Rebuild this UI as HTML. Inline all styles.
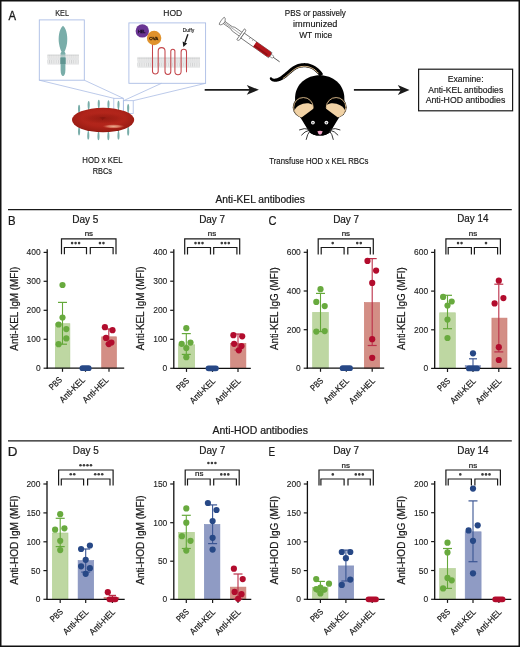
<!DOCTYPE html><html><head><meta charset="utf-8"><title>Figure</title><style>html,body{margin:0;padding:0;background:#fff;width:520px;height:647px;overflow:hidden}svg{display:block;font-family:"Liberation Sans", sans-serif;will-change:transform}</style></head><body>
<svg width="520" height="647" viewBox="0 0 520 647" font-family='"Liberation Sans", sans-serif'>
<rect x="0" y="0" width="520" height="647" fill="#fff"/>
<defs><pattern id="lip" x="0" y="0" width="2.2" height="4" patternUnits="userSpaceOnUse"><rect width="2.2" height="4" fill="#eeeeee"/><rect x="0.7" width="0.9" height="4" fill="#d2d3d4"/></pattern><pattern id="heads" x="0" y="0" width="2.2" height="3" patternUnits="userSpaceOnUse"><rect width="2.2" height="3" fill="#ebebeb"/><circle cx="1.1" cy="1.5" r="0.95" fill="#d3d4d5"/></pattern><radialGradient id="rbc" cx="0.5" cy="0.42" r="0.62"><stop offset="0" stop-color="#b8281d"/><stop offset="0.55" stop-color="#b0241a"/><stop offset="0.85" stop-color="#9c1d14"/><stop offset="1" stop-color="#80140d"/></radialGradient><radialGradient id="rbcdim" cx="0.5" cy="0.55" r="0.5"><stop offset="0" stop-color="#8c1810" stop-opacity="0.85"/><stop offset="0.6" stop-color="#951a11" stop-opacity="0.45"/><stop offset="1" stop-color="#a82015" stop-opacity="0"/></radialGradient><radialGradient id="rbchl" cx="0.5" cy="0.5" r="0.5"><stop offset="0" stop-color="#eaab8d"/><stop offset="0.55" stop-color="#d4705a"/><stop offset="1" stop-color="#c2392a" stop-opacity="0"/></radialGradient></defs>
<text x="8.55" y="19.7" font-size="13.4" fill="#1a1a1a" textLength="7.52" lengthAdjust="spacingAndGlyphs" stroke="#1a1a1a" stroke-width="0.35">A</text>
<text x="55.17" y="15.9" font-size="9.0" fill="#1a1a1a" textLength="13.81" lengthAdjust="spacingAndGlyphs" stroke="#1a1a1a" stroke-width="0.15">KEL</text>
<rect x="39.3" y="19.9" width="45.0" height="60.3" fill="none" stroke="#abbde5" stroke-width="0.9"/>
<rect x="47.5" y="54.3" width="31.40" height="10.30" fill="#e4e5e6"/>
<rect x="47.5" y="54.81" width="31.40" height="3.09" fill="url(#heads)"/>
<rect x="47.5" y="59.96" width="31.40" height="3.40" fill="url(#lip)"/>
<path d="M63,25.8 C67.2,29.5 67.8,38 67.0,43.5 C66.3,48 65.2,50.3 64.5,51.8 L65.5,53.2 L65.4,54.5 L65.4,70 C65.4,74 64.2,76 63,76 C61.8,76 60.6,74 60.6,70 L60.6,54.5 L60.5,53.2 L61.5,51.8 C60.8,50.3 59.7,48 59.0,43.5 C58.2,38 58.8,29.5 63,25.8 Z" fill="#79ada9"/>
<rect x="60.4" y="57.6" width="5.2" height="6.4" fill="#5f9591"/>
<rect x="59.8" y="54.6" width="6.4" height="2.6" fill="url(#heads)" opacity="0.55"/>
<text x="163.37" y="15.9" font-size="9.0" fill="#1a1a1a" textLength="18.88" lengthAdjust="spacingAndGlyphs" stroke="#1a1a1a" stroke-width="0.15">HOD</text>
<rect x="128.9" y="22.9" width="76.7" height="60.4" fill="none" stroke="#abbde5" stroke-width="0.9"/>
<rect x="137.5" y="56.9" width="62.50" height="10.80" fill="#e4e5e6"/>
<rect x="137.5" y="57.44" width="62.50" height="3.24" fill="url(#heads)"/>
<rect x="137.5" y="62.84" width="62.50" height="3.56" fill="url(#lip)"/>
<path d="M152.5,44 L152.5,71.6 A2.9,2.9 0 0 0 158.2,71.6 L158.2,51 A3.4,3.4 0 0 1 165,51 L165,71.6 A2.9,2.9 0 0 0 170.8,71.6 L170.8,51.2 A2.05,2.05 0 0 1 174.9,51.2 L174.9,71.6 A3.1,3.1 0 0 0 181.1,71.6 L181.1,52 A2.7,2.7 0 0 1 186.5,52 L186.5,72.3" fill="none" stroke="#c4464b" stroke-width="1.05"/>
<circle cx="142.3" cy="30.9" r="6.7" fill="#6a3593"/>
<circle cx="154.1" cy="38.0" r="7.2" fill="#e0922c"/>
<text x="137.99" y="32.7" font-size="4.3" fill="#1a0d2a" textLength="7.42" lengthAdjust="spacingAndGlyphs" stroke="#1a0d2a" stroke-width="0.3">HEL</text>
<text x="149.30" y="39.6" font-size="4.3" fill="#2a1805" textLength="9.01" lengthAdjust="spacingAndGlyphs" stroke="#2a1805" stroke-width="0.3">OVA</text>
<text x="182.65" y="31.9" font-size="4.8" fill="#1a1a1a" textLength="11.71" lengthAdjust="spacingAndGlyphs" stroke="#1a1a1a" stroke-width="0.12">Duffy</text>
<line x1="187.9" y1="34.2" x2="185.0" y2="42.5" stroke="#1a1a1a" stroke-width="1.35"/>
<path d="M183.3,46.9 L182.6,41.6 L187.2,43.4 Z" fill="#1a1a1a"/>
<line x1="39.3" y1="80.2" x2="113.8" y2="98.3" stroke="#abbde5" stroke-width="0.8"/>
<line x1="84.3" y1="80.2" x2="123.3" y2="98.3" stroke="#abbde5" stroke-width="0.8"/>
<line x1="161.5" y1="83.3" x2="123.5" y2="100.7" stroke="#abbde5" stroke-width="0.8"/>
<line x1="205.6" y1="83.3" x2="133.2" y2="100.7" stroke="#abbde5" stroke-width="0.8"/>
<rect x="113.8" y="98.3" width="9.5" height="14" fill="none" stroke="#abbde5" stroke-width="0.8"/>
<rect x="123.5" y="100.7" width="9.7" height="12.8" fill="none" stroke="#abbde5" stroke-width="0.8"/>
<path d="M79.1,104.7 C80.44999999999999,104.7 80.39999999999999,110.48 79.6,112.89 L79.6,115.2 L78.6,115.2 L78.6,112.89 C77.8,110.48 77.75,104.7 79.1,104.7 Z" fill="#79ada9"/>
<path d="M88.7,100.9 C90.05,100.9 90.0,106.68 89.2,109.09 L89.2,111.4 L88.2,111.4 L88.2,109.09 C87.4,106.68 87.35000000000001,100.9 88.7,100.9 Z" fill="#79ada9"/>
<path d="M98.8,99.8 C100.14999999999999,99.8 100.1,105.58 99.3,107.99 L99.3,110.3 L98.3,110.3 L98.3,107.99 C97.5,105.58 97.45,99.8 98.8,99.8 Z" fill="#79ada9"/>
<path d="M108.5,100.3 C109.85,100.3 109.8,106.08 109.0,108.49 L109.0,110.8 L108.0,110.8 L108.0,108.49 C107.2,106.08 107.15,100.3 108.5,100.3 Z" fill="#79ada9"/>
<path d="M118.5,100.8 C119.85,100.8 119.8,106.58 119.0,108.99 L119.0,111.3 L118.0,111.3 L118.0,108.99 C117.2,106.58 117.15,100.8 118.5,100.8 Z" fill="#79ada9"/>
<path d="M128.2,104.0 C129.54999999999998,104.0 129.5,109.78 128.7,112.19 L128.7,114.5 L127.69999999999999,114.5 L127.69999999999999,112.19 C126.89999999999999,109.78 126.85,104.0 128.2,104.0 Z" fill="#79ada9"/>
<path d="M79.1,135.5 C80.44999999999999,135.5 80.39999999999999,129.72 79.6,127.31 L79.6,125.0 L78.6,125.0 L78.6,127.31 C77.8,129.72 77.75,135.5 79.1,135.5 Z" fill="#79ada9"/>
<path d="M88.3,139.6 C89.64999999999999,139.6 89.6,133.82 88.8,131.41 L88.8,129.1 L87.8,129.1 L87.8,131.41 C87.0,133.82 86.95,139.6 88.3,139.6 Z" fill="#79ada9"/>
<path d="M98.5,140.2 C99.85,140.2 99.8,134.42 99.0,132.01 L99.0,129.7 L98.0,129.7 L98.0,132.01 C97.2,134.42 97.15,140.2 98.5,140.2 Z" fill="#79ada9"/>
<path d="M108.4,140.2 C109.75,140.2 109.7,134.42 108.9,132.01 L108.9,129.7 L107.9,129.7 L107.9,132.01 C107.10000000000001,134.42 107.05000000000001,140.2 108.4,140.2 Z" fill="#79ada9"/>
<path d="M118.5,139.6 C119.85,139.6 119.8,133.82 119.0,131.41 L119.0,129.1 L118.0,129.1 L118.0,131.41 C117.2,133.82 117.15,139.6 118.5,139.6 Z" fill="#79ada9"/>
<path d="M128.2,135.8 C129.54999999999998,135.8 129.5,130.03 128.7,127.61 L128.7,125.30000000000001 L127.69999999999999,125.30000000000001 L127.69999999999999,127.61 C126.89999999999999,130.03 126.85,135.8 128.2,135.8 Z" fill="#79ada9"/>
<ellipse cx="103.1" cy="120.0" rx="31.1" ry="12.2" fill="url(#rbc)"/>
<ellipse cx="103.5" cy="117.8" rx="23" ry="6.0" fill="url(#rbcdim)"/>
<path d="M99.5,117.6 Q101.8,118.4 102.6,120.2 Q103.6,118.2 106,117.6 Q103,116.6 99.5,117.6 Z" fill="#861610" opacity="0.8"/>
<ellipse cx="113.5" cy="126.4" rx="11.5" ry="2.3" fill="url(#rbchl)"/>
<text x="82.33" y="163.0" font-size="9.3" fill="#1a1a1a" textLength="40.18" lengthAdjust="spacingAndGlyphs" stroke="#1a1a1a" stroke-width="0.18">HOD x KEL</text>
<text x="92.66" y="174.0" font-size="9.3" fill="#1a1a1a" textLength="19.26" lengthAdjust="spacingAndGlyphs" stroke="#1a1a1a" stroke-width="0.18">RBCs</text>
<line x1="204.7" y1="89.8" x2="250.5" y2="89.8" stroke="#1a1a1a" stroke-width="1.7" />
<path d="M258.9,89.8 L246.8,84.9 L249.8,89.8 L246.8,94.7 Z" fill="#1a1a1a"/>
<line x1="353.9" y1="89.9" x2="403.0" y2="89.9" stroke="#1a1a1a" stroke-width="1.7" />
<path d="M409.5,89.9 L397.8,84.9 L400.8,89.9 L397.8,94.9 Z" fill="#1a1a1a"/>
<g transform="translate(221.7,20.8) rotate(35.3)">
<path d="M0.2,-4.4 C2.2,-4.4 2.6,-1.6 3.2,-1.3 L3.2,1.3 C2.6,1.6 2.2,4.4 0.2,4.4 C-0.8,4.4 -0.8,-4.4 0.2,-4.4 Z" fill="#fff" stroke="#5a5a5a" stroke-width="0.7"/>
<path d="M3.2,-1.3 L12,-1.3 L14.5,-2.3 L24,-2.3 L24,2.3 L14.5,2.3 L12,1.3 L3.2,1.3 Z" fill="#fff" stroke="#5a5a5a" stroke-width="0.7"/>
<line x1="4" y1="0" x2="24" y2="0" stroke="#5a5a5a" stroke-width="0.45"/>
<path d="M23.2,-6.6 C24.6,-6.8 25.6,-6.2 25.6,-5 L25.6,5 C25.6,6.2 24.6,6.8 23.2,6.6 Z" fill="#fff" stroke="#5a5a5a" stroke-width="0.7"/>
<rect x="25.6" y="-3.0" width="34" height="6.0" fill="#fff" stroke="#5a5a5a" stroke-width="0.75"/>
<path d="M40.5,-3 L57,-3 A3,3 0 0 1 57,3 L40.5,3 Z" fill="#b3161c"/>
<rect x="41" y="0.6" width="16" height="1.6" fill="#8f1116"/>
<line x1="33" y1="-3" x2="33" y2="-1" stroke="#5a5a5a" stroke-width="0.5"/>
<line x1="36.5" y1="-3" x2="36.5" y2="-1.4" stroke="#5a5a5a" stroke-width="0.5"/>
<rect x="60" y="-1.3" width="3" height="2.6" fill="#fff" stroke="#5a5a5a" stroke-width="0.5"/>
<line x1="63" y1="0" x2="71" y2="0" stroke="#5a5a5a" stroke-width="0.9"/>
</g>
<text x="284.80" y="15.6" font-size="9.3" fill="#1a1a1a" textLength="61.04" lengthAdjust="spacingAndGlyphs" stroke="#1a1a1a" stroke-width="0.18">PBS or passively</text>
<text x="293.05" y="26.7" font-size="9.3" fill="#1a1a1a" textLength="44.40" lengthAdjust="spacingAndGlyphs" stroke="#1a1a1a" stroke-width="0.18">immunized</text>
<text x="299.21" y="37.6" font-size="9.3" fill="#1a1a1a" textLength="32.93" lengthAdjust="spacingAndGlyphs" stroke="#1a1a1a" stroke-width="0.18">WT mice</text>
<path d="M269.86,78.96 L270.13,79.41 L270.49,79.87 L270.90,80.29 L271.36,80.65 L271.86,80.96 L272.39,81.22 L272.94,81.42 L273.52,81.58 L274.12,81.69 L274.74,81.76 L275.37,81.78 L276.01,81.76 L276.66,81.71 L277.32,81.61 L277.99,81.48 L278.67,81.32 L279.35,81.12 L280.03,80.88 L280.72,80.62 L281.40,80.32 L282.37,79.84 L283.35,79.30 L284.30,78.71 L285.23,78.09 L286.11,77.42 L286.98,76.72 L287.83,76.01 L288.66,75.29 L289.49,74.57 L290.30,73.86 L291.11,73.16 L291.91,72.48 L292.71,71.82 L293.51,71.19 L294.30,70.60 L295.09,70.05 L295.88,69.55 L296.67,69.09 L297.46,68.70 L298.23,68.37 L299.17,68.06 L300.16,67.80 L301.19,67.59 L302.25,67.44 L303.33,67.34 L304.43,67.32 L305.53,67.36 L306.65,67.49 L307.78,67.68 L308.90,67.97 L310.03,68.34 L311.15,68.80 L312.26,69.36 L313.37,70.02 L314.46,70.80 L315.54,71.69 L316.60,72.70 L317.64,73.84 L318.65,75.12 L319.67,76.59 L323.13,74.21 L322.03,72.62 L320.84,71.12 L319.61,69.76 L318.33,68.55 L317.01,67.46 L315.67,66.51 L314.29,65.68 L312.90,64.98 L311.49,64.40 L310.07,63.93 L308.66,63.58 L307.25,63.33 L305.85,63.18 L304.47,63.12 L303.11,63.15 L301.77,63.26 L300.47,63.45 L299.20,63.71 L297.98,64.04 L296.77,64.43 L295.70,64.89 L294.69,65.39 L293.71,65.95 L292.76,66.55 L291.84,67.19 L290.95,67.86 L290.07,68.55 L289.22,69.26 L288.38,69.97 L287.55,70.69 L286.73,71.41 L285.92,72.11 L285.11,72.80 L284.31,73.47 L283.52,74.12 L282.72,74.72 L281.95,75.33 L281.18,75.89 L280.41,76.40 L279.60,76.88 L279.08,77.18 L278.57,77.46 L278.05,77.71 L277.55,77.93 L277.05,78.13 L276.56,78.29 L276.09,78.43 L275.63,78.54 L275.18,78.62 L274.76,78.67 L274.36,78.69 L273.98,78.69 L273.63,78.65 L273.30,78.60 L273.00,78.52 L272.72,78.41 L272.46,78.28 L272.22,78.12 L271.99,77.93 L271.74,77.64 Z" fill="#000"/>
<circle cx="270.9" cy="78.4" r="1.15" fill="#000"/>
<polyline points="282.88,78.57 283.78,77.97 284.66,77.33 285.53,76.67 286.38,75.98 287.21,75.28 288.04,74.57 288.86,73.86 289.68,73.14 290.49,72.44 291.30,71.75 292.11,71.08 292.93,70.44 293.74,69.83 294.56,69.26 295.39,68.73 296.22,68.26 297.06,67.84 297.90,67.48 298.90,67.15 299.95,66.88 301.03,66.65 302.14,66.49 303.28,66.40 304.43,66.37 305.61,66.42 306.79,66.54 307.98,66.76 309.17,67.05 310.36,67.45 311.54,67.94 312.72,68.53 313.89,69.23 315.04,70.04 316.17,70.97 317.28,72.03 318.37,73.22" fill="none" stroke="#ecc995" stroke-width="1.0"/>
<path d="M319.7,75.2 C333,75.2 343.4,84 344.3,96.5 L344.5,104 L339.4,117.1 L330.2,131.9 C326,136.7 313.5,136.7 309.3,131.9 L300.1,117.1 L295.0,104 L295.1,96.5 C296,84 306.4,75.2 319.7,75.2 Z" fill="#000"/>
<circle cx="303.40" cy="107.3" r="10.6" fill="#1a140c"/>
<circle cx="303.40" cy="107.3" r="9.75" fill="#000" stroke="#e6c595" stroke-width="0.85"/>
<path d="M294.40,110.6 C296.90,104.5 307.40,101.0 312.80,105.2 A9.1,9.1 0 0 1 294.40,110.6 Z" fill="#f1d2a5"/>
<circle cx="336.10" cy="107.3" r="10.6" fill="#1a140c"/>
<circle cx="336.10" cy="107.3" r="9.75" fill="#000" stroke="#e6c595" stroke-width="0.85"/>
<path d="M345.10,110.6 C342.60,104.5 332.10,101.0 326.70,105.2 A9.1,9.1 0 0 0 345.10,110.6 Z" fill="#f1d2a5"/>
<path d="M301.6,117.6 L313.7,108.6 L319.75,106 L325.8,108.6 L337.9,117.6 L330.2,131.9 C326,136.8 313.5,136.8 309.3,131.9 Z" fill="#000"/>
<circle cx="312.9" cy="122.6" r="1.9" fill="#f4f4f4"/>
<circle cx="312.9" cy="122.8" r="0.8" fill="#555"/>
<circle cx="326.4" cy="122.6" r="1.9" fill="#f4f4f4"/>
<circle cx="326.4" cy="122.8" r="0.8" fill="#555"/>
<path d="M309.25,129.3 Q304.25,127.6 299.15,130.0" fill="none" stroke="#2b2b2b" stroke-width="0.95"/>
<path d="M309.45,130.2 Q304.75,131.2 301.35,135.3" fill="none" stroke="#2b2b2b" stroke-width="0.95"/>
<path d="M309.95,131.0 Q307.25,134 306.15,139.8" fill="none" stroke="#2b2b2b" stroke-width="0.95"/>
<path d="M330.25,129.3 Q335.25,127.6 340.35,130.0" fill="none" stroke="#2b2b2b" stroke-width="0.95"/>
<path d="M330.05,130.2 Q334.75,131.2 338.15,135.3" fill="none" stroke="#2b2b2b" stroke-width="0.95"/>
<path d="M329.55,131.0 Q332.25,134 333.35,139.8" fill="none" stroke="#2b2b2b" stroke-width="0.95"/>
<path d="M317.4,131.2 Q320,130.4 322.7,131.2 Q322.0,134.4 320.0,134.7 Q318.1,134.4 317.4,131.2 Z" fill="#f0a3c6"/>
<text x="269.29" y="163.7" font-size="9.3" fill="#1a1a1a" textLength="99.25" lengthAdjust="spacingAndGlyphs" stroke="#1a1a1a" stroke-width="0.18">Transfuse HOD x KEL RBCs</text>
<rect x="418.6" y="69.2" width="94.0" height="41.6" fill="none" stroke="#1a1a1a" stroke-width="1.2"/>
<text x="447.66" y="81.7" font-size="9.3" fill="#1a1a1a" textLength="35.89" lengthAdjust="spacingAndGlyphs" stroke="#1a1a1a" stroke-width="0.18">Examine:</text>
<text x="428.25" y="92.7" font-size="9.3" fill="#1a1a1a" textLength="74.91" lengthAdjust="spacingAndGlyphs" stroke="#1a1a1a" stroke-width="0.18">Anti-KEL antibodies</text>
<text x="425.65" y="103.3" font-size="9.3" fill="#1a1a1a" textLength="79.61" lengthAdjust="spacingAndGlyphs" stroke="#1a1a1a" stroke-width="0.18">Anti-HOD antibodies</text>
<text x="215.55" y="203.0" font-size="10.3" fill="#1a1a1a" textLength="89.27" lengthAdjust="spacingAndGlyphs" stroke="#1a1a1a" stroke-width="0.22">Anti-KEL antibodies</text>
<line x1="8.0" y1="209.6" x2="511.8" y2="209.6" stroke="#1a1a1a" stroke-width="1.2" />
<text x="212.45" y="434.3" font-size="10.3" fill="#1a1a1a" textLength="95.47" lengthAdjust="spacingAndGlyphs" stroke="#1a1a1a" stroke-width="0.22">Anti-HOD antibodies</text>
<line x1="8.0" y1="440.8" x2="511.8" y2="440.8" stroke="#1a1a1a" stroke-width="1.2" />
<text x="7.94" y="224.6" font-size="13.4" fill="#1a1a1a" textLength="7.61" lengthAdjust="spacingAndGlyphs" stroke="#1a1a1a" stroke-width="0.22">B</text>
<text x="268.40" y="224.6" font-size="13.4" fill="#1a1a1a" textLength="7.96" lengthAdjust="spacingAndGlyphs" stroke="#1a1a1a" stroke-width="0.22">C</text>
<text x="7.77" y="455.9" font-size="13.4" fill="#1a1a1a" textLength="9.71" lengthAdjust="spacingAndGlyphs" stroke="#1a1a1a" stroke-width="0.22">D</text>
<text x="268.56" y="455.9" font-size="13.4" fill="#1a1a1a" textLength="6.61" lengthAdjust="spacingAndGlyphs" stroke="#1a1a1a" stroke-width="0.22">E</text>
<rect x="55.30" y="323.70" width="14.60" height="44.50" fill="#bed7a2" stroke="#afcd8f" stroke-width="0.6"/>
<rect x="101.70" y="336.80" width="14.80" height="31.40" fill="#d38e85" stroke="#cc7f75" stroke-width="0.6"/>
<line x1="47.2" y1="249.3" x2="47.2" y2="368.8" stroke="#111" stroke-width="1.3" />
<line x1="46.6" y1="368.2" x2="124.2" y2="368.2" stroke="#111" stroke-width="1.3" />
<line x1="43.6" y1="252.4" x2="47.2" y2="252.4" stroke="#1a1a1a" stroke-width="1.2" />
<text x="26.63" y="255.4" font-size="8.45" fill="#1a1a1a" textLength="14.10" lengthAdjust="spacingAndGlyphs" stroke="#1a1a1a" stroke-width="0.1">400</text>
<line x1="43.6" y1="281.3" x2="47.2" y2="281.3" stroke="#1a1a1a" stroke-width="1.2" />
<text x="26.63" y="284.3" font-size="8.45" fill="#1a1a1a" textLength="14.10" lengthAdjust="spacingAndGlyphs" stroke="#1a1a1a" stroke-width="0.1">300</text>
<line x1="43.6" y1="310.3" x2="47.2" y2="310.3" stroke="#1a1a1a" stroke-width="1.2" />
<text x="26.63" y="313.3" font-size="8.45" fill="#1a1a1a" textLength="14.10" lengthAdjust="spacingAndGlyphs" stroke="#1a1a1a" stroke-width="0.1">200</text>
<line x1="43.6" y1="339.3" x2="47.2" y2="339.3" stroke="#1a1a1a" stroke-width="1.2" />
<text x="26.63" y="342.3" font-size="8.45" fill="#1a1a1a" textLength="14.10" lengthAdjust="spacingAndGlyphs" stroke="#1a1a1a" stroke-width="0.1">100</text>
<line x1="43.6" y1="368.2" x2="47.2" y2="368.2" stroke="#1a1a1a" stroke-width="1.2" />
<text x="36.01" y="371.2" font-size="8.45" fill="#1a1a1a" textLength="4.70" lengthAdjust="spacingAndGlyphs" stroke="#1a1a1a" stroke-width="0.1">0</text>
<line x1="62.5" y1="368.2" x2="62.5" y2="371.8" stroke="#1a1a1a" stroke-width="1.2" />
<line x1="85.5" y1="368.2" x2="85.5" y2="371.8" stroke="#1a1a1a" stroke-width="1.2" />
<line x1="109.0" y1="368.2" x2="109.0" y2="371.8" stroke="#1a1a1a" stroke-width="1.2" />
<line x1="62.5" y1="302.4" x2="62.5" y2="344.2" stroke="#64a83a" stroke-width="1.1" />
<line x1="58.0" y1="302.4" x2="67.0" y2="302.4" stroke="#64a83a" stroke-width="1.2" />
<line x1="58.0" y1="344.2" x2="67.0" y2="344.2" stroke="#64a83a" stroke-width="1.2" />
<line x1="108.8" y1="329.0" x2="108.8" y2="344.0" stroke="#bb2f48" stroke-width="1.1" />
<line x1="105.3" y1="329.0" x2="112.3" y2="329.0" stroke="#bb2f48" stroke-width="1.2" />
<line x1="105.3" y1="344.0" x2="112.3" y2="344.0" stroke="#bb2f48" stroke-width="1.2" />
<circle cx="62.5" cy="285.0" r="3.1" fill="#68aa3e"/>
<circle cx="62.5" cy="317.5" r="3.1" fill="#68aa3e"/>
<circle cx="58.6" cy="324.5" r="3.1" fill="#68aa3e"/>
<circle cx="66.3" cy="329.1" r="3.1" fill="#68aa3e"/>
<circle cx="66.3" cy="338.4" r="3.1" fill="#68aa3e"/>
<circle cx="58.6" cy="344.2" r="3.1" fill="#68aa3e"/>
<rect x="79.5" y="365.30" width="12.10" height="5.8" rx="2.9" fill="#274886"/>
<circle cx="104.9" cy="327.2" r="3.1" fill="#b20c2d"/>
<circle cx="112.5" cy="330.2" r="3.1" fill="#b20c2d"/>
<circle cx="106.0" cy="337.9" r="3.1" fill="#b20c2d"/>
<circle cx="111.4" cy="342.5" r="3.1" fill="#b20c2d"/>
<circle cx="108.8" cy="344.1" r="3.1" fill="#b20c2d"/>
<text transform="translate(62.60,380.50) rotate(-45)" font-size="8.8" text-anchor="end" fill="#1a1a1a" stroke="#1a1a1a" stroke-width="0.22" textLength="14.2" lengthAdjust="spacingAndGlyphs">PBS</text>
<text transform="translate(85.60,380.50) rotate(-45)" font-size="8.8" text-anchor="end" fill="#1a1a1a" stroke="#1a1a1a" stroke-width="0.22" textLength="32.0" lengthAdjust="spacingAndGlyphs">Anti-KEL</text>
<text transform="translate(109.10,380.50) rotate(-45)" font-size="8.8" text-anchor="end" fill="#1a1a1a" stroke="#1a1a1a" stroke-width="0.22" textLength="32.5" lengthAdjust="spacingAndGlyphs">Anti-HEL</text>
<polyline points="61.5,254.3 61.5,238.85 116.0,238.85 116.0,254.3" fill="none" stroke="#1a1a1a" stroke-width="1.2"/>
<polyline points="64.4,254.3 64.4,247.5 86.5,247.5 86.5,254.3" fill="none" stroke="#1a1a1a" stroke-width="1.2"/>
<polyline points="90.3,254.3 90.3,247.5 113.1,247.5 113.1,254.3" fill="none" stroke="#1a1a1a" stroke-width="1.2"/>
<text x="84.68" y="236.1" font-size="7.6" fill="#1a1a1a" textLength="8.41" lengthAdjust="spacingAndGlyphs" stroke="#1a1a1a" stroke-width="0.22">ns</text>
<circle cx="72.10" cy="243.1" r="1.3" fill="#3c3c3c"/>
<circle cx="75.60" cy="243.1" r="1.3" fill="#3c3c3c"/>
<circle cx="79.10" cy="243.1" r="1.3" fill="#3c3c3c"/>
<circle cx="99.95" cy="243.1" r="1.3" fill="#3c3c3c"/>
<circle cx="103.45" cy="243.1" r="1.3" fill="#3c3c3c"/>
<text x="72.15" y="222.5" font-size="10.4" fill="#1a1a1a" textLength="26.23" lengthAdjust="spacingAndGlyphs" stroke="#1a1a1a" stroke-width="0.22">Day 5</text>
<text transform="translate(17.6,350.65) rotate(-90)" font-size="10.4" fill="#1a1a1a" stroke="#1a1a1a" stroke-width="0.22" textLength="84.04" lengthAdjust="spacingAndGlyphs">Anti-KEL IgM (MFI)</text>
<rect x="178.50" y="344.80" width="16.20" height="23.50" fill="#bed7a2" stroke="#afcd8f" stroke-width="0.6"/>
<rect x="230.50" y="343.30" width="15.40" height="25.00" fill="#d38e85" stroke="#cc7f75" stroke-width="0.6"/>
<line x1="173.8" y1="249.3" x2="173.8" y2="368.90000000000003" stroke="#111" stroke-width="1.3" />
<line x1="173.20000000000002" y1="368.3" x2="250.8" y2="368.3" stroke="#111" stroke-width="1.3" />
<line x1="170.20000000000002" y1="252.2" x2="173.8" y2="252.2" stroke="#1a1a1a" stroke-width="1.2" />
<text x="153.23" y="255.2" font-size="8.45" fill="#1a1a1a" textLength="14.10" lengthAdjust="spacingAndGlyphs" stroke="#1a1a1a" stroke-width="0.1">400</text>
<line x1="170.20000000000002" y1="281.2" x2="173.8" y2="281.2" stroke="#1a1a1a" stroke-width="1.2" />
<text x="153.23" y="284.2" font-size="8.45" fill="#1a1a1a" textLength="14.10" lengthAdjust="spacingAndGlyphs" stroke="#1a1a1a" stroke-width="0.1">300</text>
<line x1="170.20000000000002" y1="310.3" x2="173.8" y2="310.3" stroke="#1a1a1a" stroke-width="1.2" />
<text x="153.23" y="313.3" font-size="8.45" fill="#1a1a1a" textLength="14.10" lengthAdjust="spacingAndGlyphs" stroke="#1a1a1a" stroke-width="0.1">200</text>
<line x1="170.20000000000002" y1="339.3" x2="173.8" y2="339.3" stroke="#1a1a1a" stroke-width="1.2" />
<text x="153.23" y="342.3" font-size="8.45" fill="#1a1a1a" textLength="14.10" lengthAdjust="spacingAndGlyphs" stroke="#1a1a1a" stroke-width="0.1">100</text>
<line x1="170.20000000000002" y1="368.3" x2="173.8" y2="368.3" stroke="#1a1a1a" stroke-width="1.2" />
<text x="162.61" y="371.3" font-size="8.45" fill="#1a1a1a" textLength="4.70" lengthAdjust="spacingAndGlyphs" stroke="#1a1a1a" stroke-width="0.1">0</text>
<line x1="186.5" y1="368.3" x2="186.5" y2="371.90000000000003" stroke="#1a1a1a" stroke-width="1.2" />
<line x1="212.5" y1="368.3" x2="212.5" y2="371.90000000000003" stroke="#1a1a1a" stroke-width="1.2" />
<line x1="238.0" y1="368.3" x2="238.0" y2="371.90000000000003" stroke="#1a1a1a" stroke-width="1.2" />
<line x1="186.3" y1="333.6" x2="186.3" y2="354.4" stroke="#64a83a" stroke-width="1.1" />
<line x1="181.8" y1="333.6" x2="190.8" y2="333.6" stroke="#64a83a" stroke-width="1.2" />
<line x1="181.8" y1="354.4" x2="190.8" y2="354.4" stroke="#64a83a" stroke-width="1.2" />
<line x1="238.0" y1="334.0" x2="238.0" y2="350.0" stroke="#bb2f48" stroke-width="1.1" />
<line x1="234.5" y1="334.0" x2="241.5" y2="334.0" stroke="#bb2f48" stroke-width="1.2" />
<line x1="234.5" y1="350.0" x2="241.5" y2="350.0" stroke="#bb2f48" stroke-width="1.2" />
<circle cx="186.3" cy="328.2" r="3.1" fill="#68aa3e"/>
<circle cx="181.7" cy="343.8" r="3.1" fill="#68aa3e"/>
<circle cx="190.5" cy="342.6" r="3.1" fill="#68aa3e"/>
<circle cx="186.3" cy="348.0" r="3.1" fill="#68aa3e"/>
<circle cx="186.3" cy="357.2" r="3.1" fill="#68aa3e"/>
<rect x="205.6" y="365.40" width="13.20" height="5.8" rx="2.9" fill="#274886"/>
<circle cx="233.4" cy="335.2" r="3.1" fill="#b20c2d"/>
<circle cx="242.2" cy="336.3" r="3.1" fill="#b20c2d"/>
<circle cx="234.1" cy="343.8" r="3.1" fill="#b20c2d"/>
<circle cx="241.5" cy="346.1" r="3.1" fill="#b20c2d"/>
<circle cx="238.8" cy="350.3" r="3.1" fill="#b20c2d"/>
<text transform="translate(189.90,381.50) rotate(-45)" font-size="8.8" text-anchor="end" fill="#1a1a1a" stroke="#1a1a1a" stroke-width="0.22" textLength="14.2" lengthAdjust="spacingAndGlyphs">PBS</text>
<text transform="translate(215.90,381.50) rotate(-45)" font-size="8.8" text-anchor="end" fill="#1a1a1a" stroke="#1a1a1a" stroke-width="0.22" textLength="32.0" lengthAdjust="spacingAndGlyphs">Anti-KEL</text>
<text transform="translate(241.40,381.50) rotate(-45)" font-size="8.8" text-anchor="end" fill="#1a1a1a" stroke="#1a1a1a" stroke-width="0.22" textLength="32.5" lengthAdjust="spacingAndGlyphs">Anti-HEL</text>
<polyline points="184.7,254.5 184.7,238.85 239.7,238.85 239.7,254.5" fill="none" stroke="#1a1a1a" stroke-width="1.2"/>
<polyline points="187.5,254.5 187.5,247.5 210.5,247.5 210.5,254.5" fill="none" stroke="#1a1a1a" stroke-width="1.2"/>
<polyline points="213.7,254.5 213.7,247.5 236.9,247.5 236.9,254.5" fill="none" stroke="#1a1a1a" stroke-width="1.2"/>
<text x="207.78" y="236.1" font-size="7.6" fill="#1a1a1a" textLength="8.41" lengthAdjust="spacingAndGlyphs" stroke="#1a1a1a" stroke-width="0.22">ns</text>
<circle cx="195.50" cy="243.1" r="1.3" fill="#3c3c3c"/>
<circle cx="199.00" cy="243.1" r="1.3" fill="#3c3c3c"/>
<circle cx="202.50" cy="243.1" r="1.3" fill="#3c3c3c"/>
<circle cx="221.80" cy="243.1" r="1.3" fill="#3c3c3c"/>
<circle cx="225.30" cy="243.1" r="1.3" fill="#3c3c3c"/>
<circle cx="228.80" cy="243.1" r="1.3" fill="#3c3c3c"/>
<text x="199.15" y="222.5" font-size="10.4" fill="#1a1a1a" textLength="26.02" lengthAdjust="spacingAndGlyphs" stroke="#1a1a1a" stroke-width="0.22">Day 7</text>
<text transform="translate(144.2,350.25) rotate(-90)" font-size="10.4" fill="#1a1a1a" stroke="#1a1a1a" stroke-width="0.22" textLength="83.84" lengthAdjust="spacingAndGlyphs">Anti-KEL IgM (MFI)</text>
<rect x="312.70" y="312.40" width="15.60" height="55.80" fill="#bed7a2" stroke="#afcd8f" stroke-width="0.6"/>
<rect x="364.30" y="302.50" width="15.40" height="65.70" fill="#d38e85" stroke="#cc7f75" stroke-width="0.6"/>
<line x1="307.3" y1="249.3" x2="307.3" y2="368.8" stroke="#111" stroke-width="1.3" />
<line x1="306.7" y1="368.2" x2="384.2" y2="368.2" stroke="#111" stroke-width="1.3" />
<line x1="303.7" y1="252.3" x2="307.3" y2="252.3" stroke="#1a1a1a" stroke-width="1.2" />
<text x="286.73" y="255.3" font-size="8.45" fill="#1a1a1a" textLength="14.10" lengthAdjust="spacingAndGlyphs" stroke="#1a1a1a" stroke-width="0.1">600</text>
<line x1="303.7" y1="291.0" x2="307.3" y2="291.0" stroke="#1a1a1a" stroke-width="1.2" />
<text x="286.73" y="294.0" font-size="8.45" fill="#1a1a1a" textLength="14.10" lengthAdjust="spacingAndGlyphs" stroke="#1a1a1a" stroke-width="0.1">400</text>
<line x1="303.7" y1="329.7" x2="307.3" y2="329.7" stroke="#1a1a1a" stroke-width="1.2" />
<text x="286.73" y="332.7" font-size="8.45" fill="#1a1a1a" textLength="14.10" lengthAdjust="spacingAndGlyphs" stroke="#1a1a1a" stroke-width="0.1">200</text>
<line x1="303.7" y1="368.2" x2="307.3" y2="368.2" stroke="#1a1a1a" stroke-width="1.2" />
<text x="296.11" y="371.2" font-size="8.45" fill="#1a1a1a" textLength="4.70" lengthAdjust="spacingAndGlyphs" stroke="#1a1a1a" stroke-width="0.1">0</text>
<line x1="320.5" y1="368.2" x2="320.5" y2="371.8" stroke="#1a1a1a" stroke-width="1.2" />
<line x1="346.3" y1="368.2" x2="346.3" y2="371.8" stroke="#1a1a1a" stroke-width="1.2" />
<line x1="372.2" y1="368.2" x2="372.2" y2="371.8" stroke="#1a1a1a" stroke-width="1.2" />
<line x1="320.5" y1="293.4" x2="320.5" y2="331.6" stroke="#64a83a" stroke-width="1.1" />
<line x1="316.0" y1="293.4" x2="325.0" y2="293.4" stroke="#64a83a" stroke-width="1.2" />
<line x1="316.0" y1="331.6" x2="325.0" y2="331.6" stroke="#64a83a" stroke-width="1.2" />
<line x1="372.2" y1="258.6" x2="372.2" y2="345.5" stroke="#bb2f48" stroke-width="1.1" />
<line x1="367.7" y1="258.6" x2="376.7" y2="258.6" stroke="#bb2f48" stroke-width="1.2" />
<line x1="367.7" y1="345.5" x2="376.7" y2="345.5" stroke="#bb2f48" stroke-width="1.2" />
<circle cx="320.5" cy="289.2" r="3.1" fill="#68aa3e"/>
<circle cx="316.3" cy="301.9" r="3.1" fill="#68aa3e"/>
<circle cx="324.7" cy="306.1" r="3.1" fill="#68aa3e"/>
<circle cx="316.3" cy="331.6" r="3.1" fill="#68aa3e"/>
<circle cx="324.7" cy="331.1" r="3.1" fill="#68aa3e"/>
<rect x="339.7" y="365.30" width="13.20" height="5.8" rx="2.9" fill="#274886"/>
<circle cx="367.5" cy="260.9" r="3.1" fill="#b20c2d"/>
<circle cx="376.1" cy="270.6" r="3.1" fill="#b20c2d"/>
<circle cx="372.2" cy="282.9" r="3.1" fill="#b20c2d"/>
<circle cx="372.2" cy="339.2" r="3.1" fill="#b20c2d"/>
<circle cx="372.2" cy="357.8" r="3.1" fill="#b20c2d"/>
<text transform="translate(323.90,381.40) rotate(-45)" font-size="8.8" text-anchor="end" fill="#1a1a1a" stroke="#1a1a1a" stroke-width="0.22" textLength="14.2" lengthAdjust="spacingAndGlyphs">PBS</text>
<text transform="translate(349.70,381.40) rotate(-45)" font-size="8.8" text-anchor="end" fill="#1a1a1a" stroke="#1a1a1a" stroke-width="0.22" textLength="32.0" lengthAdjust="spacingAndGlyphs">Anti-KEL</text>
<text transform="translate(375.60,381.40) rotate(-45)" font-size="8.8" text-anchor="end" fill="#1a1a1a" stroke="#1a1a1a" stroke-width="0.22" textLength="32.5" lengthAdjust="spacingAndGlyphs">Anti-HEL</text>
<polyline points="318.2,254.5 318.2,238.85 373.3,238.85 373.3,254.5" fill="none" stroke="#1a1a1a" stroke-width="1.2"/>
<polyline points="321.2,254.5 321.2,247.5 344.1,247.5 344.1,254.5" fill="none" stroke="#1a1a1a" stroke-width="1.2"/>
<polyline points="347.8,254.5 347.8,247.5 370.3,247.5 370.3,254.5" fill="none" stroke="#1a1a1a" stroke-width="1.2"/>
<text x="341.68" y="236.1" font-size="7.6" fill="#1a1a1a" textLength="8.41" lengthAdjust="spacingAndGlyphs" stroke="#1a1a1a" stroke-width="0.22">ns</text>
<circle cx="332.70" cy="243.1" r="1.3" fill="#3c3c3c"/>
<circle cx="357.25" cy="243.1" r="1.3" fill="#3c3c3c"/>
<circle cx="360.75" cy="243.1" r="1.3" fill="#3c3c3c"/>
<text x="333.15" y="222.5" font-size="10.4" fill="#1a1a1a" textLength="26.02" lengthAdjust="spacingAndGlyphs" stroke="#1a1a1a" stroke-width="0.22">Day 7</text>
<text transform="translate(277.5,350.05) rotate(-90)" font-size="10.4" fill="#1a1a1a" stroke="#1a1a1a" stroke-width="0.22" textLength="82.73" lengthAdjust="spacingAndGlyphs">Anti-KEL IgG (MFI)</text>
<rect x="439.70" y="312.80" width="15.60" height="55.60" fill="#bed7a2" stroke="#afcd8f" stroke-width="0.6"/>
<rect x="465.20" y="365.60" width="15.20" height="2.80" fill="#8f9bc4" stroke="#8290bd" stroke-width="0.6"/>
<rect x="491.90" y="318.10" width="15.10" height="50.30" fill="#d38e85" stroke="#cc7f75" stroke-width="0.6"/>
<line x1="434.7" y1="249.3" x2="434.7" y2="369.0" stroke="#111" stroke-width="1.3" />
<line x1="434.09999999999997" y1="368.4" x2="511.3" y2="368.4" stroke="#111" stroke-width="1.3" />
<line x1="431.09999999999997" y1="252.4" x2="434.7" y2="252.4" stroke="#1a1a1a" stroke-width="1.2" />
<text x="414.13" y="255.4" font-size="8.45" fill="#1a1a1a" textLength="14.10" lengthAdjust="spacingAndGlyphs" stroke="#1a1a1a" stroke-width="0.1">600</text>
<line x1="431.09999999999997" y1="291.1" x2="434.7" y2="291.1" stroke="#1a1a1a" stroke-width="1.2" />
<text x="414.13" y="294.1" font-size="8.45" fill="#1a1a1a" textLength="14.10" lengthAdjust="spacingAndGlyphs" stroke="#1a1a1a" stroke-width="0.1">400</text>
<line x1="431.09999999999997" y1="329.8" x2="434.7" y2="329.8" stroke="#1a1a1a" stroke-width="1.2" />
<text x="414.13" y="332.8" font-size="8.45" fill="#1a1a1a" textLength="14.10" lengthAdjust="spacingAndGlyphs" stroke="#1a1a1a" stroke-width="0.1">200</text>
<line x1="431.09999999999997" y1="368.4" x2="434.7" y2="368.4" stroke="#1a1a1a" stroke-width="1.2" />
<text x="423.51" y="371.4" font-size="8.45" fill="#1a1a1a" textLength="4.70" lengthAdjust="spacingAndGlyphs" stroke="#1a1a1a" stroke-width="0.1">0</text>
<line x1="447.5" y1="368.4" x2="447.5" y2="372.0" stroke="#1a1a1a" stroke-width="1.2" />
<line x1="473.0" y1="368.4" x2="473.0" y2="372.0" stroke="#1a1a1a" stroke-width="1.2" />
<line x1="498.8" y1="368.4" x2="498.8" y2="372.0" stroke="#1a1a1a" stroke-width="1.2" />
<line x1="447.5" y1="295.3" x2="447.5" y2="328.7" stroke="#64a83a" stroke-width="1.1" />
<line x1="443.0" y1="295.3" x2="452.0" y2="295.3" stroke="#64a83a" stroke-width="1.2" />
<line x1="443.0" y1="328.7" x2="452.0" y2="328.7" stroke="#64a83a" stroke-width="1.2" />
<line x1="473.0" y1="358.8" x2="473.0" y2="368.0" stroke="#3a5593" stroke-width="1.1" />
<line x1="469.0" y1="358.8" x2="477.0" y2="358.8" stroke="#3a5593" stroke-width="1.2" />
<line x1="469.0" y1="368.0" x2="477.0" y2="368.0" stroke="#3a5593" stroke-width="1.2" />
<line x1="498.8" y1="284.2" x2="498.8" y2="351.9" stroke="#bb2f48" stroke-width="1.1" />
<line x1="494.3" y1="284.2" x2="503.3" y2="284.2" stroke="#bb2f48" stroke-width="1.2" />
<line x1="494.3" y1="351.9" x2="503.3" y2="351.9" stroke="#bb2f48" stroke-width="1.2" />
<circle cx="443.1" cy="296.9" r="3.1" fill="#68aa3e"/>
<circle cx="451.7" cy="301.5" r="3.1" fill="#68aa3e"/>
<circle cx="447.5" cy="305.5" r="3.1" fill="#68aa3e"/>
<circle cx="447.5" cy="319.6" r="3.1" fill="#68aa3e"/>
<circle cx="447.5" cy="338.0" r="3.1" fill="#68aa3e"/>
<circle cx="473.0" cy="353.3" r="3.1" fill="#274886"/>
<rect x="466.0" y="365.50" width="14.00" height="5.8" rx="2.9" fill="#274886"/>
<circle cx="498.8" cy="280.7" r="3.1" fill="#b20c2d"/>
<circle cx="503.4" cy="298.1" r="3.1" fill="#b20c2d"/>
<circle cx="494.6" cy="303.4" r="3.1" fill="#b20c2d"/>
<circle cx="498.8" cy="347.2" r="3.1" fill="#b20c2d"/>
<circle cx="498.8" cy="360.0" r="3.1" fill="#b20c2d"/>
<text transform="translate(450.90,381.60) rotate(-45)" font-size="8.8" text-anchor="end" fill="#1a1a1a" stroke="#1a1a1a" stroke-width="0.22" textLength="14.2" lengthAdjust="spacingAndGlyphs">PBS</text>
<text transform="translate(476.40,381.60) rotate(-45)" font-size="8.8" text-anchor="end" fill="#1a1a1a" stroke="#1a1a1a" stroke-width="0.22" textLength="32.0" lengthAdjust="spacingAndGlyphs">Anti-KEL</text>
<text transform="translate(502.20,381.60) rotate(-45)" font-size="8.8" text-anchor="end" fill="#1a1a1a" stroke="#1a1a1a" stroke-width="0.22" textLength="32.5" lengthAdjust="spacingAndGlyphs">Anti-HEL</text>
<polyline points="445.9,254.5 445.9,238.85 500.4,238.85 500.4,254.5" fill="none" stroke="#1a1a1a" stroke-width="1.2"/>
<polyline points="448.2,254.5 448.2,247.5 471.4,247.5 471.4,254.5" fill="none" stroke="#1a1a1a" stroke-width="1.2"/>
<polyline points="474.4,254.5 474.4,247.5 497.6,247.5 497.6,254.5" fill="none" stroke="#1a1a1a" stroke-width="1.2"/>
<text x="468.88" y="236.1" font-size="7.6" fill="#1a1a1a" textLength="8.41" lengthAdjust="spacingAndGlyphs" stroke="#1a1a1a" stroke-width="0.22">ns</text>
<circle cx="458.05" cy="243.1" r="1.3" fill="#3c3c3c"/>
<circle cx="461.55" cy="243.1" r="1.3" fill="#3c3c3c"/>
<circle cx="486.00" cy="243.1" r="1.3" fill="#3c3c3c"/>
<text x="457.26" y="222.3" font-size="10.4" fill="#1a1a1a" textLength="31.11" lengthAdjust="spacingAndGlyphs" stroke="#1a1a1a" stroke-width="0.22">Day 14</text>
<text transform="translate(405.0,350.05) rotate(-90)" font-size="10.4" fill="#1a1a1a" stroke="#1a1a1a" stroke-width="0.22" textLength="82.73" lengthAdjust="spacingAndGlyphs">Anti-KEL IgG (MFI)</text>
<rect x="52.40" y="533.00" width="15.60" height="66.30" fill="#bed7a2" stroke="#afcd8f" stroke-width="0.6"/>
<rect x="78.10" y="560.50" width="15.60" height="38.80" fill="#8f9bc4" stroke="#8290bd" stroke-width="0.6"/>
<rect x="104.00" y="597.30" width="14.90" height="2.00" fill="#d38e85" stroke="#cc7f75" stroke-width="0.6"/>
<line x1="47.0" y1="481.0" x2="47.0" y2="599.9" stroke="#111" stroke-width="1.3" />
<line x1="46.4" y1="599.3" x2="124.7" y2="599.3" stroke="#111" stroke-width="1.3" />
<line x1="43.4" y1="484.0" x2="47.0" y2="484.0" stroke="#1a1a1a" stroke-width="1.2" />
<text x="26.43" y="487.0" font-size="8.45" fill="#1a1a1a" textLength="14.10" lengthAdjust="spacingAndGlyphs" stroke="#1a1a1a" stroke-width="0.1">200</text>
<line x1="43.4" y1="512.9" x2="47.0" y2="512.9" stroke="#1a1a1a" stroke-width="1.2" />
<text x="26.43" y="515.9" font-size="8.45" fill="#1a1a1a" textLength="14.10" lengthAdjust="spacingAndGlyphs" stroke="#1a1a1a" stroke-width="0.1">150</text>
<line x1="43.4" y1="541.8" x2="47.0" y2="541.8" stroke="#1a1a1a" stroke-width="1.2" />
<text x="26.43" y="544.8" font-size="8.45" fill="#1a1a1a" textLength="14.10" lengthAdjust="spacingAndGlyphs" stroke="#1a1a1a" stroke-width="0.1">100</text>
<line x1="43.4" y1="570.6" x2="47.0" y2="570.6" stroke="#1a1a1a" stroke-width="1.2" />
<text x="31.12" y="573.6" font-size="8.45" fill="#1a1a1a" textLength="9.40" lengthAdjust="spacingAndGlyphs" stroke="#1a1a1a" stroke-width="0.1">50</text>
<line x1="43.4" y1="599.3" x2="47.0" y2="599.3" stroke="#1a1a1a" stroke-width="1.2" />
<text x="35.81" y="602.3" font-size="8.45" fill="#1a1a1a" textLength="4.70" lengthAdjust="spacingAndGlyphs" stroke="#1a1a1a" stroke-width="0.1">0</text>
<line x1="60.2" y1="599.3" x2="60.2" y2="602.9" stroke="#1a1a1a" stroke-width="1.2" />
<line x1="85.7" y1="599.3" x2="85.7" y2="602.9" stroke="#1a1a1a" stroke-width="1.2" />
<line x1="112.4" y1="599.3" x2="112.4" y2="602.9" stroke="#1a1a1a" stroke-width="1.2" />
<line x1="60.2" y1="518.3" x2="60.2" y2="546.6" stroke="#64a83a" stroke-width="1.1" />
<line x1="55.7" y1="518.3" x2="64.7" y2="518.3" stroke="#64a83a" stroke-width="1.2" />
<line x1="55.7" y1="546.6" x2="64.7" y2="546.6" stroke="#64a83a" stroke-width="1.2" />
<line x1="85.7" y1="549.0" x2="85.7" y2="572.1" stroke="#3a5593" stroke-width="1.1" />
<line x1="81.2" y1="549.0" x2="90.2" y2="549.0" stroke="#3a5593" stroke-width="1.2" />
<line x1="81.2" y1="572.1" x2="90.2" y2="572.1" stroke="#3a5593" stroke-width="1.2" />
<line x1="112.4" y1="595.4" x2="112.4" y2="599.0" stroke="#bb2f48" stroke-width="1.1" />
<line x1="108.80000000000001" y1="595.4" x2="116.0" y2="595.4" stroke="#bb2f48" stroke-width="1.2" />
<line x1="108.80000000000001" y1="599.0" x2="116.0" y2="599.0" stroke="#bb2f48" stroke-width="1.2" />
<circle cx="60.2" cy="514.2" r="3.1" fill="#68aa3e"/>
<circle cx="55.1" cy="529.7" r="3.1" fill="#68aa3e"/>
<circle cx="64.4" cy="528.3" r="3.1" fill="#68aa3e"/>
<circle cx="60.2" cy="540.8" r="3.1" fill="#68aa3e"/>
<circle cx="60.2" cy="550.1" r="3.1" fill="#68aa3e"/>
<circle cx="81.1" cy="549.0" r="3.1" fill="#274886"/>
<circle cx="89.9" cy="545.5" r="3.1" fill="#274886"/>
<circle cx="85.7" cy="559.8" r="3.1" fill="#274886"/>
<circle cx="81.1" cy="566.3" r="3.1" fill="#274886"/>
<circle cx="89.9" cy="568.2" r="3.1" fill="#274886"/>
<circle cx="85.7" cy="573.8" r="3.1" fill="#274886"/>
<circle cx="107.8" cy="592.2" r="3.1" fill="#b20c2d"/>
<rect x="106.5" y="596.40" width="11.90" height="5.8" rx="2.9" fill="#b20c2d"/>
<text transform="translate(63.60,612.50) rotate(-45)" font-size="8.8" text-anchor="end" fill="#1a1a1a" stroke="#1a1a1a" stroke-width="0.22" textLength="14.2" lengthAdjust="spacingAndGlyphs">PBS</text>
<text transform="translate(89.10,612.50) rotate(-45)" font-size="8.8" text-anchor="end" fill="#1a1a1a" stroke="#1a1a1a" stroke-width="0.22" textLength="32.0" lengthAdjust="spacingAndGlyphs">Anti-KEL</text>
<text transform="translate(115.80,612.50) rotate(-45)" font-size="8.8" text-anchor="end" fill="#1a1a1a" stroke="#1a1a1a" stroke-width="0.22" textLength="32.5" lengthAdjust="spacingAndGlyphs">Anti-HEL</text>
<polyline points="58.6,485.6 58.6,470.0 113.1,470.0 113.1,485.6" fill="none" stroke="#1a1a1a" stroke-width="1.2"/>
<polyline points="61.3,485.6 61.3,479.0 83.6,479.0 83.6,485.6" fill="none" stroke="#1a1a1a" stroke-width="1.2"/>
<polyline points="87.6,485.6 87.6,479.0 110.0,479.0 110.0,485.6" fill="none" stroke="#1a1a1a" stroke-width="1.2"/>
<circle cx="80.45" cy="465.3" r="1.3" fill="#3c3c3c"/>
<circle cx="83.95" cy="465.3" r="1.3" fill="#3c3c3c"/>
<circle cx="87.45" cy="465.3" r="1.3" fill="#3c3c3c"/>
<circle cx="90.95" cy="465.3" r="1.3" fill="#3c3c3c"/>
<circle cx="70.75" cy="474.3" r="1.3" fill="#3c3c3c"/>
<circle cx="74.25" cy="474.3" r="1.3" fill="#3c3c3c"/>
<circle cx="95.20" cy="474.3" r="1.3" fill="#3c3c3c"/>
<circle cx="98.70" cy="474.3" r="1.3" fill="#3c3c3c"/>
<circle cx="102.20" cy="474.3" r="1.3" fill="#3c3c3c"/>
<text x="72.76" y="453.7" font-size="10.4" fill="#1a1a1a" textLength="25.91" lengthAdjust="spacingAndGlyphs" stroke="#1a1a1a" stroke-width="0.22">Day 5</text>
<text transform="translate(17.7,584.75) rotate(-90)" font-size="10.4" fill="#1a1a1a" stroke="#1a1a1a" stroke-width="0.22" textLength="89.44" lengthAdjust="spacingAndGlyphs">Anti-HOD IgM (MFI)</text>
<rect x="178.50" y="532.30" width="15.90" height="67.00" fill="#bed7a2" stroke="#afcd8f" stroke-width="0.6"/>
<rect x="204.30" y="524.40" width="15.60" height="74.90" fill="#8f9bc4" stroke="#8290bd" stroke-width="0.6"/>
<rect x="230.30" y="587.10" width="15.60" height="12.20" fill="#d38e85" stroke="#cc7f75" stroke-width="0.6"/>
<line x1="173.8" y1="481.0" x2="173.8" y2="599.9" stroke="#111" stroke-width="1.3" />
<line x1="173.20000000000002" y1="599.3" x2="251.3" y2="599.3" stroke="#111" stroke-width="1.3" />
<line x1="170.20000000000002" y1="484.0" x2="173.8" y2="484.0" stroke="#1a1a1a" stroke-width="1.2" />
<text x="153.23" y="487.0" font-size="8.45" fill="#1a1a1a" textLength="14.10" lengthAdjust="spacingAndGlyphs" stroke="#1a1a1a" stroke-width="0.1">150</text>
<line x1="170.20000000000002" y1="522.7" x2="173.8" y2="522.7" stroke="#1a1a1a" stroke-width="1.2" />
<text x="153.23" y="525.7" font-size="8.45" fill="#1a1a1a" textLength="14.10" lengthAdjust="spacingAndGlyphs" stroke="#1a1a1a" stroke-width="0.1">100</text>
<line x1="170.20000000000002" y1="561.2" x2="173.8" y2="561.2" stroke="#1a1a1a" stroke-width="1.2" />
<text x="157.92" y="564.2" font-size="8.45" fill="#1a1a1a" textLength="9.40" lengthAdjust="spacingAndGlyphs" stroke="#1a1a1a" stroke-width="0.1">50</text>
<line x1="170.20000000000002" y1="599.3" x2="173.8" y2="599.3" stroke="#1a1a1a" stroke-width="1.2" />
<text x="162.61" y="602.3" font-size="8.45" fill="#1a1a1a" textLength="4.70" lengthAdjust="spacingAndGlyphs" stroke="#1a1a1a" stroke-width="0.1">0</text>
<line x1="186.3" y1="599.3" x2="186.3" y2="602.9" stroke="#1a1a1a" stroke-width="1.2" />
<line x1="212.6" y1="599.3" x2="212.6" y2="602.9" stroke="#1a1a1a" stroke-width="1.2" />
<line x1="238.0" y1="599.3" x2="238.0" y2="602.9" stroke="#1a1a1a" stroke-width="1.2" />
<line x1="186.3" y1="515.3" x2="186.3" y2="548.5" stroke="#64a83a" stroke-width="1.1" />
<line x1="181.8" y1="515.3" x2="190.8" y2="515.3" stroke="#64a83a" stroke-width="1.2" />
<line x1="181.8" y1="548.5" x2="190.8" y2="548.5" stroke="#64a83a" stroke-width="1.2" />
<line x1="212.6" y1="504.9" x2="212.6" y2="543.6" stroke="#3a5593" stroke-width="1.1" />
<line x1="208.1" y1="504.9" x2="217.1" y2="504.9" stroke="#3a5593" stroke-width="1.2" />
<line x1="208.1" y1="543.6" x2="217.1" y2="543.6" stroke="#3a5593" stroke-width="1.2" />
<line x1="238.0" y1="574.0" x2="238.0" y2="599.0" stroke="#bb2f48" stroke-width="1.1" />
<line x1="233.5" y1="574.0" x2="242.5" y2="574.0" stroke="#bb2f48" stroke-width="1.2" />
<line x1="233.5" y1="599.0" x2="242.5" y2="599.0" stroke="#bb2f48" stroke-width="1.2" />
<circle cx="186.3" cy="508.4" r="3.1" fill="#68aa3e"/>
<circle cx="186.3" cy="522.7" r="3.1" fill="#68aa3e"/>
<circle cx="181.9" cy="536.2" r="3.1" fill="#68aa3e"/>
<circle cx="190.5" cy="540.8" r="3.1" fill="#68aa3e"/>
<circle cx="186.3" cy="550.6" r="3.1" fill="#68aa3e"/>
<circle cx="207.9" cy="503.0" r="3.1" fill="#274886"/>
<circle cx="216.5" cy="510.0" r="3.1" fill="#274886"/>
<circle cx="212.6" cy="521.1" r="3.1" fill="#274886"/>
<circle cx="212.6" cy="537.8" r="3.1" fill="#274886"/>
<circle cx="212.6" cy="549.6" r="3.1" fill="#274886"/>
<circle cx="233.9" cy="568.7" r="3.1" fill="#b20c2d"/>
<circle cx="242.7" cy="579.1" r="3.1" fill="#b20c2d"/>
<circle cx="234.6" cy="591.9" r="3.1" fill="#b20c2d"/>
<circle cx="241.5" cy="594.2" r="3.1" fill="#b20c2d"/>
<circle cx="238.1" cy="598.8" r="3.1" fill="#b20c2d"/>
<text transform="translate(189.70,612.50) rotate(-45)" font-size="8.8" text-anchor="end" fill="#1a1a1a" stroke="#1a1a1a" stroke-width="0.22" textLength="14.2" lengthAdjust="spacingAndGlyphs">PBS</text>
<text transform="translate(216.00,612.50) rotate(-45)" font-size="8.8" text-anchor="end" fill="#1a1a1a" stroke="#1a1a1a" stroke-width="0.22" textLength="32.0" lengthAdjust="spacingAndGlyphs">Anti-KEL</text>
<text transform="translate(241.40,612.50) rotate(-45)" font-size="8.8" text-anchor="end" fill="#1a1a1a" stroke="#1a1a1a" stroke-width="0.22" textLength="32.5" lengthAdjust="spacingAndGlyphs">Anti-HEL</text>
<polyline points="185.2,485.6 185.2,470.0 239.2,470.0 239.2,485.6" fill="none" stroke="#1a1a1a" stroke-width="1.2"/>
<polyline points="187.5,485.6 187.5,479.0 210.2,479.0 210.2,485.6" fill="none" stroke="#1a1a1a" stroke-width="1.2"/>
<polyline points="213.7,485.6 213.7,479.0 236.4,479.0 236.4,485.6" fill="none" stroke="#1a1a1a" stroke-width="1.2"/>
<circle cx="208.40" cy="463.0" r="1.3" fill="#3c3c3c"/>
<circle cx="211.90" cy="463.0" r="1.3" fill="#3c3c3c"/>
<circle cx="215.40" cy="463.0" r="1.3" fill="#3c3c3c"/>
<text x="194.98" y="476.0" font-size="7.6" fill="#1a1a1a" textLength="8.41" lengthAdjust="spacingAndGlyphs" stroke="#1a1a1a" stroke-width="0.22">ns</text>
<circle cx="221.30" cy="474.4" r="1.3" fill="#3c3c3c"/>
<circle cx="224.80" cy="474.4" r="1.3" fill="#3c3c3c"/>
<circle cx="228.30" cy="474.4" r="1.3" fill="#3c3c3c"/>
<text x="199.26" y="453.9" font-size="10.4" fill="#1a1a1a" textLength="25.91" lengthAdjust="spacingAndGlyphs" stroke="#1a1a1a" stroke-width="0.22">Day 7</text>
<text transform="translate(144.4,584.75) rotate(-90)" font-size="10.4" fill="#1a1a1a" stroke="#1a1a1a" stroke-width="0.22" textLength="89.44" lengthAdjust="spacingAndGlyphs">Anti-HOD IgM (MFI)</text>
<rect x="312.40" y="587.50" width="15.60" height="11.80" fill="#bed7a2" stroke="#afcd8f" stroke-width="0.6"/>
<rect x="338.60" y="565.90" width="15.10" height="33.40" fill="#8f9bc4" stroke="#8290bd" stroke-width="0.6"/>
<line x1="307.4" y1="481.0" x2="307.4" y2="599.9" stroke="#111" stroke-width="1.3" />
<line x1="306.79999999999995" y1="599.3" x2="384.7" y2="599.3" stroke="#111" stroke-width="1.3" />
<line x1="303.79999999999995" y1="484.0" x2="307.4" y2="484.0" stroke="#1a1a1a" stroke-width="1.2" />
<text x="286.83" y="487.0" font-size="8.45" fill="#1a1a1a" textLength="14.10" lengthAdjust="spacingAndGlyphs" stroke="#1a1a1a" stroke-width="0.1">200</text>
<line x1="303.79999999999995" y1="512.9" x2="307.4" y2="512.9" stroke="#1a1a1a" stroke-width="1.2" />
<text x="286.83" y="515.9" font-size="8.45" fill="#1a1a1a" textLength="14.10" lengthAdjust="spacingAndGlyphs" stroke="#1a1a1a" stroke-width="0.1">150</text>
<line x1="303.79999999999995" y1="541.8" x2="307.4" y2="541.8" stroke="#1a1a1a" stroke-width="1.2" />
<text x="286.83" y="544.8" font-size="8.45" fill="#1a1a1a" textLength="14.10" lengthAdjust="spacingAndGlyphs" stroke="#1a1a1a" stroke-width="0.1">100</text>
<line x1="303.79999999999995" y1="570.6" x2="307.4" y2="570.6" stroke="#1a1a1a" stroke-width="1.2" />
<text x="291.52" y="573.6" font-size="8.45" fill="#1a1a1a" textLength="9.40" lengthAdjust="spacingAndGlyphs" stroke="#1a1a1a" stroke-width="0.1">50</text>
<line x1="303.79999999999995" y1="599.3" x2="307.4" y2="599.3" stroke="#1a1a1a" stroke-width="1.2" />
<text x="296.21" y="602.3" font-size="8.45" fill="#1a1a1a" textLength="4.70" lengthAdjust="spacingAndGlyphs" stroke="#1a1a1a" stroke-width="0.1">0</text>
<line x1="320.4" y1="599.3" x2="320.4" y2="602.9" stroke="#1a1a1a" stroke-width="1.2" />
<line x1="345.9" y1="599.3" x2="345.9" y2="602.9" stroke="#1a1a1a" stroke-width="1.2" />
<line x1="372.2" y1="599.3" x2="372.2" y2="602.9" stroke="#1a1a1a" stroke-width="1.2" />
<line x1="320.4" y1="581.4" x2="320.4" y2="592.0" stroke="#64a83a" stroke-width="1.1" />
<line x1="315.9" y1="581.4" x2="324.9" y2="581.4" stroke="#64a83a" stroke-width="1.2" />
<line x1="315.9" y1="592.0" x2="324.9" y2="592.0" stroke="#64a83a" stroke-width="1.2" />
<line x1="345.9" y1="550.1" x2="345.9" y2="581.0" stroke="#3a5593" stroke-width="1.1" />
<line x1="341.4" y1="550.1" x2="350.4" y2="550.1" stroke="#3a5593" stroke-width="1.2" />
<line x1="341.4" y1="581.0" x2="350.4" y2="581.0" stroke="#3a5593" stroke-width="1.2" />
<circle cx="316.2" cy="579.1" r="3.1" fill="#68aa3e"/>
<circle cx="329.0" cy="583.7" r="3.1" fill="#68aa3e"/>
<circle cx="320.4" cy="587.7" r="3.1" fill="#68aa3e"/>
<circle cx="316.2" cy="589.1" r="3.1" fill="#68aa3e"/>
<circle cx="324.4" cy="589.5" r="3.1" fill="#68aa3e"/>
<circle cx="320.4" cy="593.5" r="3.1" fill="#68aa3e"/>
<circle cx="341.8" cy="552.0" r="3.1" fill="#274886"/>
<circle cx="350.3" cy="552.0" r="3.1" fill="#274886"/>
<circle cx="345.9" cy="558.2" r="3.1" fill="#274886"/>
<circle cx="350.3" cy="579.6" r="3.1" fill="#274886"/>
<circle cx="341.8" cy="584.9" r="3.1" fill="#274886"/>
<rect x="365.6" y="596.40" width="13.30" height="5.8" rx="2.9" fill="#b20c2d"/>
<text transform="translate(323.80,612.50) rotate(-45)" font-size="8.8" text-anchor="end" fill="#1a1a1a" stroke="#1a1a1a" stroke-width="0.22" textLength="14.2" lengthAdjust="spacingAndGlyphs">PBS</text>
<text transform="translate(349.30,612.50) rotate(-45)" font-size="8.8" text-anchor="end" fill="#1a1a1a" stroke="#1a1a1a" stroke-width="0.22" textLength="32.0" lengthAdjust="spacingAndGlyphs">Anti-KEL</text>
<text transform="translate(375.60,612.50) rotate(-45)" font-size="8.8" text-anchor="end" fill="#1a1a1a" stroke="#1a1a1a" stroke-width="0.22" textLength="32.5" lengthAdjust="spacingAndGlyphs">Anti-HEL</text>
<polyline points="319.0,485.6 319.0,470.0 373.3,470.0 373.3,485.6" fill="none" stroke="#1a1a1a" stroke-width="1.2"/>
<polyline points="320.9,485.6 320.9,479.0 344.1,479.0 344.1,485.6" fill="none" stroke="#1a1a1a" stroke-width="1.2"/>
<polyline points="348.0,485.6 348.0,479.0 370.3,479.0 370.3,485.6" fill="none" stroke="#1a1a1a" stroke-width="1.2"/>
<text x="341.58" y="467.5" font-size="7.6" fill="#1a1a1a" textLength="8.41" lengthAdjust="spacingAndGlyphs" stroke="#1a1a1a" stroke-width="0.22">ns</text>
<circle cx="332.80" cy="474.4" r="1.3" fill="#3c3c3c"/>
<circle cx="355.80" cy="474.4" r="1.3" fill="#3c3c3c"/>
<circle cx="359.30" cy="474.4" r="1.3" fill="#3c3c3c"/>
<circle cx="362.80" cy="474.4" r="1.3" fill="#3c3c3c"/>
<text x="333.15" y="453.9" font-size="10.4" fill="#1a1a1a" textLength="26.02" lengthAdjust="spacingAndGlyphs" stroke="#1a1a1a" stroke-width="0.22">Day 7</text>
<text transform="translate(277.9,584.55) rotate(-90)" font-size="10.4" fill="#1a1a1a" stroke="#1a1a1a" stroke-width="0.22" textLength="88.74" lengthAdjust="spacingAndGlyphs">Anti-HOD IgG (MFI)</text>
<rect x="439.70" y="568.50" width="15.60" height="30.80" fill="#bed7a2" stroke="#afcd8f" stroke-width="0.6"/>
<rect x="465.20" y="531.80" width="15.90" height="67.50" fill="#8f9bc4" stroke="#8290bd" stroke-width="0.6"/>
<line x1="434.7" y1="481.0" x2="434.7" y2="599.9" stroke="#111" stroke-width="1.3" />
<line x1="434.09999999999997" y1="599.3" x2="511.3" y2="599.3" stroke="#111" stroke-width="1.3" />
<line x1="431.09999999999997" y1="484.0" x2="434.7" y2="484.0" stroke="#1a1a1a" stroke-width="1.2" />
<text x="414.13" y="487.0" font-size="8.45" fill="#1a1a1a" textLength="14.10" lengthAdjust="spacingAndGlyphs" stroke="#1a1a1a" stroke-width="0.1">200</text>
<line x1="431.09999999999997" y1="512.7" x2="434.7" y2="512.7" stroke="#1a1a1a" stroke-width="1.2" />
<text x="414.13" y="515.7" font-size="8.45" fill="#1a1a1a" textLength="14.10" lengthAdjust="spacingAndGlyphs" stroke="#1a1a1a" stroke-width="0.1">150</text>
<line x1="431.09999999999997" y1="541.6" x2="434.7" y2="541.6" stroke="#1a1a1a" stroke-width="1.2" />
<text x="414.13" y="544.6" font-size="8.45" fill="#1a1a1a" textLength="14.10" lengthAdjust="spacingAndGlyphs" stroke="#1a1a1a" stroke-width="0.1">100</text>
<line x1="431.09999999999997" y1="570.5" x2="434.7" y2="570.5" stroke="#1a1a1a" stroke-width="1.2" />
<text x="418.82" y="573.5" font-size="8.45" fill="#1a1a1a" textLength="9.40" lengthAdjust="spacingAndGlyphs" stroke="#1a1a1a" stroke-width="0.1">50</text>
<line x1="431.09999999999997" y1="599.3" x2="434.7" y2="599.3" stroke="#1a1a1a" stroke-width="1.2" />
<text x="423.51" y="602.3" font-size="8.45" fill="#1a1a1a" textLength="4.70" lengthAdjust="spacingAndGlyphs" stroke="#1a1a1a" stroke-width="0.1">0</text>
<line x1="447.5" y1="599.3" x2="447.5" y2="602.9" stroke="#1a1a1a" stroke-width="1.2" />
<line x1="473.0" y1="599.3" x2="473.0" y2="602.9" stroke="#1a1a1a" stroke-width="1.2" />
<line x1="498.9" y1="599.3" x2="498.9" y2="602.9" stroke="#1a1a1a" stroke-width="1.2" />
<line x1="447.5" y1="548.5" x2="447.5" y2="588.4" stroke="#64a83a" stroke-width="1.1" />
<line x1="443.0" y1="548.5" x2="452.0" y2="548.5" stroke="#64a83a" stroke-width="1.2" />
<line x1="443.0" y1="588.4" x2="452.0" y2="588.4" stroke="#64a83a" stroke-width="1.2" />
<line x1="473.0" y1="500.9" x2="473.0" y2="561.7" stroke="#3a5593" stroke-width="1.1" />
<line x1="468.5" y1="500.9" x2="477.5" y2="500.9" stroke="#3a5593" stroke-width="1.2" />
<line x1="468.5" y1="561.7" x2="477.5" y2="561.7" stroke="#3a5593" stroke-width="1.2" />
<circle cx="447.5" cy="542.7" r="3.1" fill="#68aa3e"/>
<circle cx="447.5" cy="552.4" r="3.1" fill="#68aa3e"/>
<circle cx="447.5" cy="577.9" r="3.1" fill="#68aa3e"/>
<circle cx="451.7" cy="580.3" r="3.1" fill="#68aa3e"/>
<circle cx="443.1" cy="588.4" r="3.1" fill="#68aa3e"/>
<circle cx="473.0" cy="488.6" r="3.1" fill="#274886"/>
<circle cx="477.7" cy="525.3" r="3.1" fill="#274886"/>
<circle cx="468.6" cy="530.4" r="3.1" fill="#274886"/>
<circle cx="473.0" cy="540.8" r="3.1" fill="#274886"/>
<circle cx="473.0" cy="573.3" r="3.1" fill="#274886"/>
<rect x="492.3" y="596.40" width="13.20" height="5.8" rx="2.9" fill="#b20c2d"/>
<text transform="translate(450.90,612.50) rotate(-45)" font-size="8.8" text-anchor="end" fill="#1a1a1a" stroke="#1a1a1a" stroke-width="0.22" textLength="14.2" lengthAdjust="spacingAndGlyphs">PBS</text>
<text transform="translate(476.40,612.50) rotate(-45)" font-size="8.8" text-anchor="end" fill="#1a1a1a" stroke="#1a1a1a" stroke-width="0.22" textLength="32.0" lengthAdjust="spacingAndGlyphs">Anti-KEL</text>
<text transform="translate(502.30,612.50) rotate(-45)" font-size="8.8" text-anchor="end" fill="#1a1a1a" stroke="#1a1a1a" stroke-width="0.22" textLength="32.5" lengthAdjust="spacingAndGlyphs">Anti-HEL</text>
<polyline points="445.9,485.6 445.9,470.0 500.4,470.0 500.4,485.6" fill="none" stroke="#1a1a1a" stroke-width="1.2"/>
<polyline points="448.2,485.6 448.2,479.0 471.4,479.0 471.4,485.6" fill="none" stroke="#1a1a1a" stroke-width="1.2"/>
<polyline points="474.9,485.6 474.9,479.0 497.6,479.0 497.6,485.6" fill="none" stroke="#1a1a1a" stroke-width="1.2"/>
<text x="468.88" y="467.5" font-size="7.6" fill="#1a1a1a" textLength="8.41" lengthAdjust="spacingAndGlyphs" stroke="#1a1a1a" stroke-width="0.22">ns</text>
<circle cx="460.30" cy="474.4" r="1.3" fill="#3c3c3c"/>
<circle cx="482.50" cy="474.4" r="1.3" fill="#3c3c3c"/>
<circle cx="486.00" cy="474.4" r="1.3" fill="#3c3c3c"/>
<circle cx="489.50" cy="474.4" r="1.3" fill="#3c3c3c"/>
<text x="457.26" y="453.7" font-size="10.4" fill="#1a1a1a" textLength="31.32" lengthAdjust="spacingAndGlyphs" stroke="#1a1a1a" stroke-width="0.22">Day 14</text>
<text transform="translate(405.1,584.55) rotate(-90)" font-size="10.4" fill="#1a1a1a" stroke="#1a1a1a" stroke-width="0.22" textLength="88.74" lengthAdjust="spacingAndGlyphs">Anti-HOD IgG (MFI)</text>
<rect x="0.75" y="0.75" width="518.5" height="645.5" fill="none" stroke="#111" stroke-width="1.5"/>
</svg></body></html>
